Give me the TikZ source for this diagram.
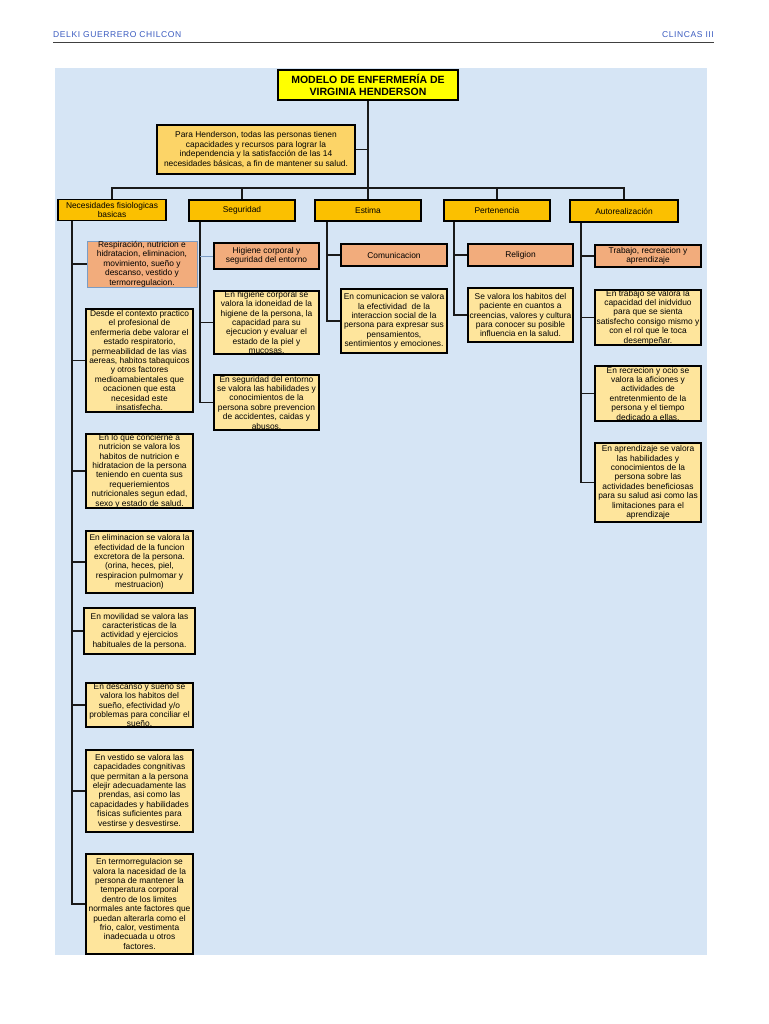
\documentclass[tikz,border=0pt]{standalone}
\usepackage{fontspec}
\setmainfont{Liberation Sans}
\newfontfamily\hdrfont[LetterSpace=7]{Liberation Sans}
\definecolor{bgblue}{HTML}{D6E5F5}
\definecolor{titley}{HTML}{FFFF00}
\definecolor{introc}{HTML}{FCD467}
\definecolor{levtwo}{HTML}{FBC000}
\definecolor{salmon}{HTML}{F2AC7C}
\definecolor{detail}{HTML}{FEE59C}
\definecolor{hdrblue}{HTML}{3A5BC0}
\definecolor{thinblue}{HTML}{7B9CC4}
\begin{document}
\begin{tikzpicture}[x=1pt,y=-1pt,
  box/.style={draw=black, line width=1.5pt, inner sep=0pt, align=center,
    font=\fontsize{8.4}{9.4}\selectfont},
  titlebox/.style={box, fill=titley, font=\bfseries\fontsize{10.5}{11.5}\selectfont},
  introbox/.style={box, fill=introc},
  lvtwo/.style={box, fill=levtwo},
  lvthree/.style={box, fill=salmon},
  detbox/.style={box, fill=detail},
  conn/.style={line width=1.3pt, draw=black!90},
  thinconn/.style={line width=0.8pt, draw=thinblue},
  hdr/.style={inner sep=0pt, text=hdrblue, font=\hdrfont\fontsize{8.5}{10}\selectfont}
]
\useasboundingbox (0,0) rectangle (768,1024);
\fill[white] (0,0) rectangle (768,1024);
\fill[bgblue] (55,68) rectangle (707,955);

% header
\node[hdr, anchor=west] (hl) at (53,35) {DELKI GUERRERO CHILCON};
\node[hdr, anchor=east] (hr) at (714,35) {CLINCAS III};
\draw[line width=1pt, black!75] (53,43) -- (714,43);

% title and intro
\node[titlebox, minimum width=180pt, minimum height=30pt] (title) at (368,85)
  {MODELO DE ENFERMERÍA DE\\VIRGINIA HENDERSON};
\node[introbox, minimum width=198pt, minimum height=49pt] (intro) at (256,149.5)
  {Para Henderson, todas las personas tienen\\capacidades y recursos para lograr la\\independencia y la satisfacción de las 14\\necesidades básicas, a fin de mantener su salud.};

% level 2
\node[lvtwo, minimum width=108pt, minimum height=21pt] (n1) at (112,210)
  {Necesidades fisiologicas\\basicas};
\node[lvtwo, minimum width=106pt, minimum height=21pt] (n2) at (242,210.5) {Seguridad};
\node[lvtwo, minimum width=106pt, minimum height=21pt] (n3) at (368,210.5) {Estima};
\node[lvtwo, minimum width=106pt, minimum height=21pt] (n4) at (497,210.5) {Pertenencia};
\node[lvtwo, minimum width=108pt, minimum height=22pt] (n5) at (624,211) {Autorealización};

% spine coordinates
\coordinate (bar) at (368,188);
\coordinate (sp1) at (72,0);
\coordinate (sp2) at (200,0);
\coordinate (sp3) at (327,0);
\coordinate (sp4) at (454,0);
\coordinate (sp5) at (581,0);

% column 1
\node[lvthree, draw=thinblue, line width=0.7pt, minimum width=110pt, minimum height=46pt] (resp) at (142,264)
  {Respiración, nutricion e\\hidratacion, eliminacion,\\movimiento, sueño y\\descanso, vestido y\\termorregulacion.};
\node[detbox, minimum width=107pt, minimum height=103pt] (c1a) at (139.5,360.5)
  {Desde el contexto practico\\el profesional de\\enfermeria debe valorar el\\estado respiratorio,\\permeabilidad de las vias\\aereas, habitos tabaquicos\\y otros factores\\medioamabientales que\\ocacionen que esta\\necesidad este\\insatisfecha.};
\node[detbox, minimum width=107pt, minimum height=74pt] (c1b) at (139.5,471)
  {En lo que concierne a\\nutricion se valora los\\habitos de nutricion e\\hidratacion de la persona\\teniendo en cuenta sus\\requeriemientos\\nutricionales segun edad,\\sexo y estado de salud.};
\node[detbox, minimum width=107pt, minimum height=62pt] (c1c) at (139.5,562)
  {En eliminacion se valora la\\efectividad de la funcion\\excretora de la persona.\\(orina, heces, piel,\\respiracion pulmomar y\\mestruacion)};
\node[detbox, minimum width=111pt, minimum height=46pt] (c1d) at (139.5,631)
  {En movilidad se valora las\\caracteristicas de la\\actividad y ejercicios\\habituales de la persona.};
\node[detbox, minimum width=107pt, minimum height=44pt] (c1e) at (139.5,705)
  {En descanso y sueño se\\valora los habitos del\\sueño, efectividad y/o\\problemas para conciliar el\\sueño.};
\node[detbox, minimum width=107pt, minimum height=82pt] (c1f) at (139.5,791)
  {En vestido se valora las\\capacidades congnitivas\\que permitan a la persona\\elejir adecuadamente las\\prendas, asi como las\\capacidades y habilidades\\fisicas suficientes para\\vestirse y desvestirse.};
\node[detbox, minimum width=107pt, minimum height=100pt] (c1g) at (139.5,904)
  {En termorregulacion se\\valora la nacesidad de la\\persona de mantener la\\temperatura corporal\\dentro de los limites\\normales ante factores que\\puedan alterarla como el\\frio, calor, vestimenta\\inadecuada u otros\\factores.};

% column 2
\node[lvthree, minimum width=105pt, minimum height=26pt] (hig) at (266.5,256)
  {Higiene corporal y\\seguridad del entorno};
\node[detbox, minimum width=105pt, minimum height=61pt] (c2a) at (266.5,322.5)
  {En higiene corporal se\\valora la idoneidad de la\\higiene de la persona, la\\capacidad para su\\ejecucion y evaluar el\\estado de la piel y\\mucosas.};
\node[detbox, minimum width=105pt, minimum height=55pt] (c2b) at (266.5,402.5)
  {En seguridad del entorno\\se valora las habilidades y\\conocimientos de la\\persona sobre prevencion\\de accidentes, caidas y\\abusos.};

% column 3
\node[lvthree, minimum width=106pt, minimum height=22pt] (com) at (394,255) {Comunicacion};
\node[detbox, minimum width=106pt, minimum height=64pt] (c3a) at (394,321)
  {En comunicacion se valora\\la efectividad\ \ de la\\interaccion social de la\\persona para expresar sus\\pensamientos,\\sentimientos y emociones.};

% column 4
\node[lvthree, minimum width=105pt, minimum height=22pt] (rel) at (520.5,255) {Religion};
\node[detbox, minimum width=105pt, minimum height=54pt] (c4a) at (520.5,315)
  {Se valora los habitos del\\paciente en cuantos a\\creencias, valores y cultura\\para conocer su posible\\influencia en la salud.};

% column 5
\node[lvthree, minimum width=106pt, minimum height=22pt] (trab) at (648,256)
  {Trabajo, recreacion y\\aprendizaje};
\node[detbox, minimum width=106pt, minimum height=55pt] (c5a) at (648,317.5)
  {En trabajo se valora la\\capacidad del inidviduo\\para que se sienta\\satisfecho consigo mismo y\\con el rol que le toca\\desempeñar.};
\node[detbox, minimum width=106pt, minimum height=55pt] (c5b) at (648,393.5)
  {En recrecion y ocio se\\valora la aficiones y\\actividades de\\entretenmiento de la\\persona y el tiempo\\dedicado a ellas.};
\node[detbox, minimum width=106pt, minimum height=79pt] (c5c) at (648,482.5)
  {En aprendizaje se valora\\las habilidades y\\conocimientos de la\\persona sobre las\\actividades beneficiosas\\para su salud asi como las\\limitaciones para el\\aprendizaje};

% trunk and bar
\draw[conn] (title.south) -- (bar);
\draw[conn] (intro.east) -- (intro.east -| title.south);
\draw[conn] (n1.north) -- (n1.north |- bar) -- (n5.north |- bar) -- (n5.north);
\draw[conn] (n2.north) -- (n2.north |- bar);
\draw[conn] (n3.north) -- (n3.north |- bar);
\draw[conn] (n4.north) -- (n4.north |- bar);

% column 1 spine and branches
\draw[conn] (n1.south -| sp1) |- (c1g.west);
\foreach \b in {resp,c1a,c1b,c1c,c1d,c1e,c1f} {\draw[conn] (sp1 |- \b.west) -- (\b.west);}

% column 2
\draw[conn] (n2.south -| sp2) |- (c2b.west);
\draw[thinconn] (sp2 |- hig.west) -- (hig.west);
\draw[conn] (sp2 |- c2a.west) -- (c2a.west);

% column 3
\draw[conn] (n3.south -| sp3) |- (c3a.west);
\draw[conn] (sp3 |- com.west) -- (com.west);

% column 4
\draw[conn] (n4.south -| sp4) |- (c4a.west);
\draw[conn] (sp4 |- rel.west) -- (rel.west);

% column 5
\draw[conn] (n5.south -| sp5) |- (c5c.west);
\foreach \b in {trab,c5a,c5b} {\draw[conn] (sp5 |- \b.west) -- (\b.west);}
\end{tikzpicture}
\end{document}
